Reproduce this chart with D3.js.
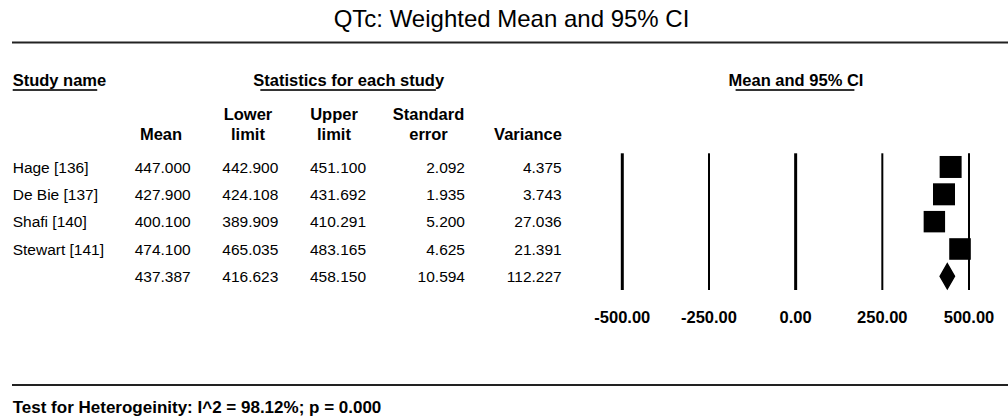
<!DOCTYPE html>
<html>
<head>
<meta charset="utf-8">
<script src="https://cdn.jsdelivr.net/npm/d3@7"></script>
<style>
  html, body { margin: 0; padding: 0; background: #fff; }
  svg { display: block; }
  text { font-family: 'Liberation Sans', Arial, sans-serif; fill: #000; }
  .bold { font-weight: bold; }
</style>
</head>
<body>
<div id="chart"></div>
<script>
// values
const studyNames = ['Hage [136]', 'De Bie [137]', 'Shafi [140]', 'Stewart [141]']
const means = [447.0, 427.9, 400.1, 474.1]
const lowerLimits = [442.9, 424.108, 389.909, 465.035]
const upperLimits = [451.1, 431.692, 410.291, 483.165]
const standardErrors = [2.092, 1.935, 5.2, 4.625]
const variances = [4.375, 3.743, 27.036, 21.391]
// summary row: mean, lower, upper, se, variance
const summaryStats = [437.387, 416.623, 458.15, 10.594, 112.227]
const axisTicks = [-500, -250, 0, 250, 500]
const chartTitle = 'QTc: Weighted Mean and 95% CI'
const footerText = 'Test for Heterogeinity: I^2 = 98.12%; p = 0.000'

const width = 1008
const height = 419

// plain hyphen for negatives, like the original
const locale = d3.formatLocale({ decimal: '.', thousands: ',', grouping: [3], currency: ['', ''], minus: '-' })
const fmt = locale.format('.3f')
const tickFmt = locale.format('.2f')

const svg = d3.select('#chart')
  .append('svg')
  .attr('width', width)
  .attr('height', height)

svg.append('rect')
  .attr('width', width)
  .attr('height', height)
  .attr('fill', '#fff')

// title + rules
svg.append('text')
  .attr('x', 511.5)
  .attr('y', 27)
  .attr('text-anchor', 'middle')
  .style('font-size', '24px')
  .text(chartTitle)

svg.append('line')
  .attr('x1', 12).attr('x2', width)
  .attr('y1', 42.5).attr('y2', 42.5)
  .attr('stroke', '#222')
  .attr('stroke-width', 2)

svg.append('line')
  .attr('x1', 12).attr('x2', width)
  .attr('y1', 385).attr('y2', 385)
  .attr('stroke', '#222')
  .attr('stroke-width', 2)

// section headings, underlined a bit short like the original
const headings = [
  { label: 'Study name', x: 12.7, anchor: 'start' },
  { label: 'Statistics for each study', x: 348.7, anchor: 'middle' },
  { label: 'Mean and 95% CI', x: 796, anchor: 'middle' }
]
headings.forEach(h => {
  const t = svg.append('text')
    .attr('class', 'bold')
    .attr('x', h.x)
    .attr('y', 86)
    .attr('text-anchor', h.anchor)
    .style('font-size', '16.5px')
    .text(h.label)
  const box = t.node().getBBox()
  const inset = h.anchor === 'start' ? 0 : 7
  svg.append('line')
    .attr('x1', box.x + inset)
    .attr('x2', box.x + box.width - 9)
    .attr('y1', 90).attr('y2', 90)
    .attr('stroke', '#333')
    .attr('stroke-width', 2)
})

// table columns
const columns = [
  { head: ['', 'Mean'], center: 161, right: 190.7, values: means, summary: summaryStats[0] },
  { head: ['Lower', 'limit'], center: 248, right: 278.3, values: lowerLimits, summary: summaryStats[1] },
  { head: ['Upper', 'limit'], center: 334, right: 366, values: upperLimits, summary: summaryStats[2] },
  { head: ['Standard', 'error'], center: 428.5, right: 465, values: standardErrors, summary: summaryStats[3] },
  { head: ['', 'Variance'], center: 528, right: 561.7, values: variances, summary: summaryStats[4] }
]

const rowIds = d3.range(studyNames.length + 1)
const yRow = d3.scaleBand()
  .domain(rowIds)
  .range([153.3, 290])

const rowMid = i => yRow(i) + yRow.bandwidth() / 2

columns.forEach(col => {
  col.head.forEach((line, k) => {
    svg.append('text')
      .attr('class', 'bold')
      .attr('x', col.center)
      .attr('y', 120 + k * 20)
      .attr('text-anchor', 'middle')
      .style('font-size', '16.5px')
      .text(line)
  })
  svg.append('g')
    .selectAll('text')
    .data(col.values.concat([col.summary]))
    .join('text')
    .attr('x', col.right)
    .attr('y', (d, i) => rowMid(i))
    .attr('dy', '0.37em')
    .attr('text-anchor', 'end')
    .style('font-size', '15.5px')
    .text(d => fmt(d))
})

svg.append('g')
  .selectAll('text')
  .data(studyNames)
  .join('text')
  .attr('x', 12.7)
  .attr('y', (d, i) => rowMid(i))
  .attr('dy', '0.37em')
  .style('font-size', '15.5px')
  .text(d => d)

// forest plot
const x = d3.scaleLinear()
  .domain([-500, 500])
  .range([622.3, 969])

const plot = svg.append('g')

plot.selectAll('line.grid')
  .data(axisTicks)
  .join('line')
  .attr('class', 'grid')
  .attr('x1', d => x(d))
  .attr('x2', d => x(d))
  .attr('y1', yRow.range()[0])
  .attr('y2', yRow.range()[1])
  .attr('stroke', '#000')
  .attr('stroke-width', d => (d === 0 || d === -500) ? 3 : 2)

plot.selectAll('text.tick')
  .data(axisTicks)
  .join('text')
  .attr('class', 'tick bold')
  .attr('x', d => x(d))
  .attr('y', 323)
  .attr('text-anchor', 'middle')
  .style('font-size', '16.5px')
  .text(d => tickFmt(d))

// random-effects weights drive the square size
const fixedW = variances.map(v => 1 / v)
const sumW = d3.sum(fixedW)
const fixedMean = d3.sum(means.map((m, i) => m * fixedW[i])) / sumW
const q = d3.sum(means.map((m, i) => fixedW[i] * (m - fixedMean) ** 2))
const c = sumW - d3.sum(fixedW.map(w => w * w)) / sumW
const tau2 = Math.max(0, (q - (means.length - 1)) / c)
const weights = variances.map(v => 1 / (v + tau2))
const side = d3.scaleSqrt()
  .domain([0, d3.max(weights)])
  .range([0, 22])

plot.selectAll('rect.study')
  .data(means)
  .join('rect')
  .attr('class', 'study')
  .attr('x', (d, i) => x(d) - side(weights[i]) / 2)
  .attr('y', (d, i) => rowMid(i) - side(weights[i]) / 2)
  .attr('width', (d, i) => side(weights[i]))
  .attr('height', (d, i) => side(weights[i]))
  .attr('fill', '#000')

// summary diamond
const sumRow = studyNames.length
const cy = rowMid(sumRow)
const half = 12.5
plot.append('path')
  .attr('d', d3.line()([
    [x(summaryStats[1]), cy],
    [x(summaryStats[0]), cy - half],
    [x(summaryStats[2]), cy],
    [x(summaryStats[0]), cy + half]
  ]) + 'Z')
  .attr('fill', '#000')
  .attr('stroke', '#000')
  .attr('stroke-width', 1.5)

svg.append('text')
  .attr('class', 'bold')
  .attr('x', 12.7)
  .attr('y', 412.7)
  .style('font-size', '17px')
  .text(footerText)
</script>
</body>
</html>
